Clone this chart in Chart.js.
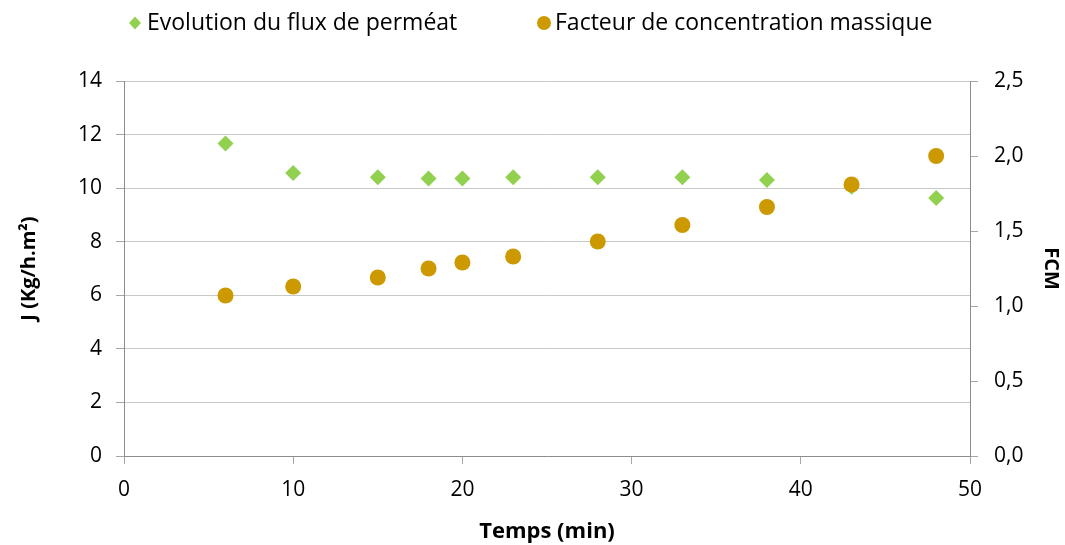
<!DOCTYPE html>
<html>
<head>
<meta charset="utf-8">
<script src="https://cdn.jsdelivr.net/npm/chart.js@4/dist/chart.umd.min.js"></script>
<style>
  html, body { margin: 0; padding: 0; background: #fff; }
  canvas { display: block; }
</style>
</head>
<body>
<canvas id="fluxChart" width="1065" height="545"></canvas>
<script>
    // temps en minutes
    const temps = [6, 10, 15, 18, 20, 23, 28, 33, 38, 43, 48];
    // flux de perméat J (Kg/h.m²)
    const flux = [11.67, 10.57, 10.41, 10.36, 10.36, 10.41, 10.41, 10.41, 10.30, 10.05, 9.63];
    // facteur de concentration massique
    const fcm = [1.07, 1.13, 1.19, 1.25, 1.29, 1.33, 1.43, 1.54, 1.66, 1.81, 2.00];

    const xTicks = [0, 10, 20, 30, 40, 50];
    const legendLabels = ['Evolution du flux de perméat', 'Facteur de concentration massique'];

    const green = '#92d050';
    const orange = '#cc9900';
    const fontName = "'Open Sans', 'Noto Sans', sans-serif";

    const ctx1 = document.getElementById('fluxChart').getContext('2d');

    // legende dessinee a la main pour garder l'espacement d'Excel
    const topLegend = {
        id: 'topLegend',
        afterDraw(chart) {
            const { ctx } = chart;
            ctx.save();
            ctx.font = '23px ' + fontName;
            ctx.textBaseline = 'middle';
            const y = 23;
            // losange
            ctx.fillStyle = green;
            ctx.beginPath();
            ctx.moveTo(135, y - 6.5);
            ctx.lineTo(141, y);
            ctx.lineTo(135, y + 6.5);
            ctx.lineTo(129, y);
            ctx.closePath();
            ctx.fill();
            ctx.fillStyle = '#000';
            ctx.fillText(legendLabels[0], 147, y);
            // rond
            ctx.fillStyle = orange;
            ctx.beginPath();
            ctx.arc(544, y, 7, 0, Math.PI * 2);
            ctx.fill();
            ctx.fillStyle = '#000';
            ctx.fillText(legendLabels[1], 555, y);
            ctx.restore();
        }
    };

    const chart = new Chart(ctx1, {
        type: 'scatter',
        data: {
            datasets: [{
                label: legendLabels[0],
                data: temps.map((t, i) => ({ x: t, y: flux[i] })),
                yAxisID: 'y',
                pointStyle: 'rectRot',
                pointRadius: 8,
                pointHoverRadius: 8,
                backgroundColor: green,
                borderColor: green,
                borderWidth: 0,
                order: 2
            }, {
                label: legendLabels[1],
                data: temps.map((t, i) => ({ x: t, y: fcm[i] })),
                yAxisID: 'y1',
                pointStyle: 'circle',
                pointRadius: 8,
                pointHoverRadius: 8,
                backgroundColor: orange,
                borderColor: orange,
                borderWidth: 0,
                order: 1
            }]
        },
        options: {
            responsive: false,
            animation: false,
            layout: { padding: { top: 81, left: 0, right: 0, bottom: 0 } },
            plugins: {
                legend: { display: false },
                tooltip: { enabled: false }
            },
            scales: {
                x: {
                    type: 'linear',
                    min: 0,
                    max: 50,
                    afterBuildTicks(scale) {
                        scale.ticks = xTicks.map(v => ({ value: v }));
                    },
                    afterFit(scale) { scale.height = 89; },
                    grid: {
                        drawOnChartArea: false,
                        tickLength: 8,
                        tickColor: '#a6a6a6',
                        color: '#a6a6a6'
                    },
                    border: { color: '#8c8c8c', width: 1 },
                    ticks: {
                        padding: 13,
                        color: '#000',
                        font: { family: fontName, size: 21 },
                        maxRotation: 0
                    },
                    title: {
                        display: true,
                        text: 'Temps (min)',
                        color: '#000',
                        font: { family: fontName, size: 22, weight: 'bold' },
                        padding: { top: 2, bottom: 0 }
                    }
                },
                y: {
                    position: 'left',
                    min: 0,
                    max: 14,
                    afterFit(scale) { scale.width = 124; },
                    grid: {
                        color: '#c8c8c8',
                        tickLength: 8,
                        tickColor: '#a6a6a6'
                    },
                    border: { color: '#8c8c8c', width: 1 },
                    ticks: {
                        stepSize: 2,
                        padding: 14,
                        color: '#000',
                        font: { family: fontName, size: 21 }
                    },
                    title: {
                        display: true,
                        text: 'J (Kg/h.m²)',
                        color: '#000',
                        font: { family: fontName, size: 20, weight: 'bold' },
                        padding: { top: 17, bottom: 0 }
                    }
                },
                y1: {
                    position: 'right',
                    min: 0,
                    max: 2.5,
                    afterFit(scale) { scale.width = 95; },
                    grid: {
                        drawOnChartArea: false,
                        tickLength: 8,
                        tickColor: '#a6a6a6'
                    },
                    border: { color: '#8c8c8c', width: 1 },
                    ticks: {
                        stepSize: 0.5,
                        padding: 16,
                        color: '#000',
                        font: { family: fontName, size: 21 },
                        callback: v => v.toFixed(1).replace('.', ',')
                    },
                    title: {
                        display: true,
                        text: 'FCM',
                        color: '#000',
                        font: { family: fontName, size: 20, weight: 'bold' },
                        padding: { top: 2, bottom: 0 }
                    }
                }
            }
        },
        plugins: [topLegend]
    });
</script>
</body>
</html>
